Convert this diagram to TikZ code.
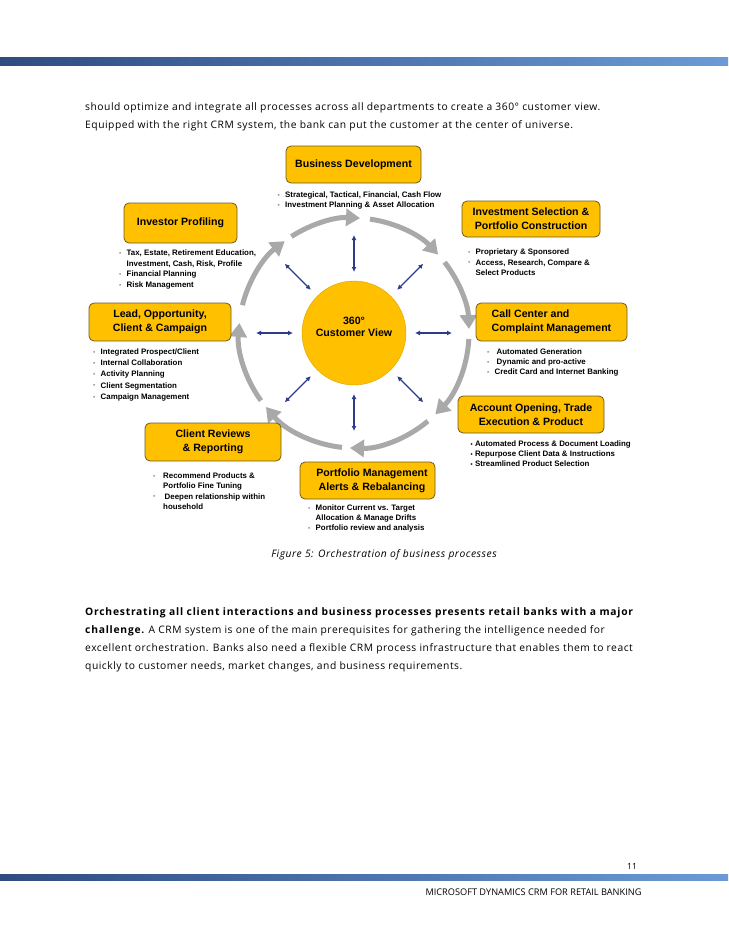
\documentclass[tikz,border=0pt]{standalone}
\usepackage{fontspec}
\setmainfont{Open Sans}
\newfontfamily\arial{Liberation Sans}
\newfontfamily\bodyfont{Open Sans}[LetterSpace=5]
\newfontfamily\bodybold{Open Sans}[LetterSpace=7.5]
\usetikzlibrary{arrows.meta}

\definecolor{boxgold}{HTML}{FFC000}
\definecolor{boxedge}{HTML}{6E5A1E}
\definecolor{ringgray}{HTML}{A9A9A9}
\definecolor{spokeblue}{HTML}{2E3A8C}
\definecolor{bardark}{HTML}{2E4C80}
\definecolor{barlight}{HTML}{6A9BD6}
\definecolor{dotgray}{HTML}{9A9A9A}

\newcommand{\gd}{\makebox[7.5pt][l]{\textcolor{dotgray}{\raisebox{.3pt}{\fontsize{6.5}{6}\selectfont •}}}}

\begin{document}
\begin{tikzpicture}[x=1pt, y=-1pt,
    stage/.style={draw=boxedge, fill=boxgold, rounded corners=5pt, line width=0.8pt, inner sep=0pt,
      font=\arial\bfseries\fontsize{10.6}{14}\selectfont, align=center},
    notes/.style={anchor=north west, inner sep=0pt, align=left, font=\arial\bfseries\fontsize{7.9}{#1}\selectfont},
    body/.style={anchor=west, inner sep=0pt, font=\bodyfont\fontsize{10.3}{18}\selectfont},
    ring/.style={draw=ringgray, line width=5pt, -{Triangle[length=14pt, width=17pt]}},
    spoke/.style={draw=spokeblue, line width=1.1pt, {Latex[length=5pt, width=5pt]}-{Latex[length=5pt, width=5pt]}}]
		\useasboundingbox (0,0) rectangle (728,942);
		\shade[left color=bardark, right color=barlight] (0,58) rectangle (728,66);
		\shade[left color=bardark, right color=barlight] (0,874) rectangle (728,880);
		\node[body] (l1) at (85,108) {should optimize and integrate all processes across all departments to create a 360° customer view.};
		\node[body] (l2) at (85,126) {Equipped with the right CRM system, the bank can put the customer at the center of universe.};

		\begin{scope}[shift={(354,333)}, yscale=-1]
		\foreach \s/\e in {123/87, 82/43, 38/2, -3/-45, -50/-92, -96/-140, -144/-185, -194/-233}
			\draw[ring] (\s:115) arc[start angle=\s, end angle=\e, radius=115];
		\foreach \a in {0,45,...,315}{
			\coordinate (si\a) at (\a:61);
			\coordinate (so\a) at (\a:98);
			\draw[spoke] (si\a) -- (so\a);
		}
		\end{scope}
		\node[circle, fill=boxgold, draw=boxgold!85!black, line width=0.4pt, minimum size=104pt] (cv) at (354,333){};
		\node[font=\arial\bfseries\fontsize{10.6}{12.5}\selectfont, align=center] (cvtext) at (354,327){360°\\Customer View};

		\node[stage, minimum width=135pt, minimum height=37pt] (bd) at (353.5,164.5){Business Development};
		\node[stage, minimum width=113pt, minimum height=40pt] (ip) at (180.5,223){Investor Profiling};
		\node[stage, minimum width=138pt, minimum height=36pt] (is) at (531,219){Investment Selection \&\\Portfolio Construction};
		\node[stage, minimum width=142pt, minimum height=38pt] (lo) at (160,322){Lead, Opportunity,\\Client \& Campaign};
		\node[stage, minimum width=151pt, minimum height=38pt, align=left] (cc) at (551.5,322){Call Center and\\Complaint Management};
		\node[stage, minimum width=146pt, minimum height=37pt] (ao) at (531,414.5){Account Opening, Trade\\Execution \& Product};
		\node[stage, minimum width=136pt, minimum height=38pt] (cr) at (213,442){Client Reviews\\\& Reporting};
		\node[stage, minimum width=135pt, minimum height=37pt] (pm) at (367.5,480.5){\hspace*{9pt}Portfolio Management\\\hspace*{9pt}Alerts \& Rebalancing};

		\node[notes=10] (bdn) at (277.5,192){\gd Strategical, Tactical, Financial, Cash Flow\\\gd Investment Planning \& Asset Allocation};
		\node[notes=10.5] (ipn) at (119,250){\gd Tax, Estate, Retirement Education,\\\hspace*{7.5pt}Investment, Cash, Risk, Profile\\\gd Financial Planning\\\gd Risk Management};
		\node[notes=10.2] (isn) at (468,249){\gd Proprietary \& Sponsored\\\gd Access, Research, Compare \&\\\hspace*{7.5pt}Select Products};
		\node[notes=11.25] (lon) at (93,348.5){\gd Integrated Prospect/Client\\\gd Internal Collaboration\\\gd Activity Planning\\\gd Client Segmentation\\\gd Campaign Management};
		\node[notes=9.8] (ccn) at (487,349){\gd\hspace{2pt}Automated Generation\\\gd\hspace{2pt}Dynamic and pro-active\\\gd Credit Card and Internet Banking};
		\node[notes=9.7] (aon) at (470.5,441){{\fontsize{6}{6}\selectfont •} Automated Process \& Document Loading\\{\fontsize{6}{6}\selectfont •} Repurpose Client Data \& Instructions\\{\fontsize{6}{6}\selectfont •} Streamlined Product Selection};
		\node[notes=10.3] (crn) at (153,472.5){\gd\hspace{2.5pt}Recommend Products \&\\\hspace*{10pt}Portfolio Fine Tuning\\\gd\hspace{4pt}Deepen relationship within\\\hspace*{10pt}household};
		\node[notes=9.8] (pmn) at (308,505){\gd Monitor Current vs. Target\\\hspace*{7.5pt}Allocation \& Manage Drifts\\\gd Portfolio review and analysis};

		\node[font=\bodyfont\itshape\fontsize{10.3}{12}\selectfont] (cap) at (384,555){Figure 5: Orchestration of business processes};
		\node[body] (p1) at (85,613){{\bodybold\bfseries Orchestrating all client interactions and business processes presents retail banks with a major}};
		\node[body] (p2) at (85,631){{\bodybold\bfseries challenge.} A CRM system is one of the main prerequisites for gathering the intelligence needed for};
		\node[body] (p3) at (85,649){excellent orchestration. Banks also need a flexible CRM process infrastructure that enables them to react};
		\node[body] (p4) at (85,667){quickly to customer needs, market changes, and business requirements.};
		\node[font=\fontsize{8.5}{10}\selectfont] (pg) at (632,866){11};
		\node[font=\fontsize{9.2}{10}\selectfont] (ft) at (533.5,892){MICROSOFT DYNAMICS CRM FOR RETAIL BANKING};
\end{tikzpicture}
\end{document}
